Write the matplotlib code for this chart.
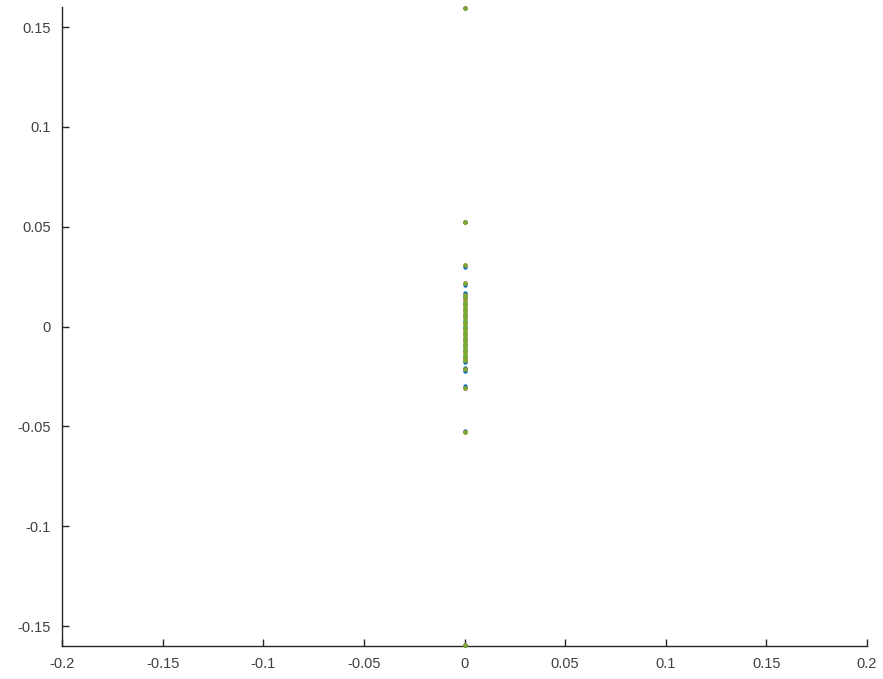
import matplotlib
matplotlib.use("Agg")
import matplotlib.pyplot as plt

plt.rcParams['font.family'] = ['Liberation Sans', 'DejaVu Sans']

# Values of three overlaid point series (all on x = 0)
series_blue_y = [0.1595, 0.0525, 0.030, 0.021, 0.017, 0.015, 0.012, 0.009, 0.006,
                 0.003, 0.000, -0.003, -0.006, -0.009, -0.012, -0.015, -0.018,
                 -0.021, -0.0225, -0.030, -0.0525, -0.1595]
series_orange_y = [0.1595, 0.0525, 0.031, 0.022, 0.016, 0.014, 0.011, 0.008, 0.005,
                   0.002, -0.001, -0.004, -0.007, -0.010, -0.013, -0.016, -0.017,
                   -0.0215, -0.031, -0.053, -0.1595]
series_green_y = [0.1595, 0.0525, 0.031, 0.022, 0.016, 0.015, 0.013, 0.0115, 0.010,
                  0.0085, 0.007, 0.0055, 0.004, 0.0025, 0.001, -0.0005, -0.002,
                  -0.0035, -0.005, -0.0065, -0.008, -0.0095, -0.011, -0.0125,
                  -0.014, -0.0155, -0.017, -0.0215, -0.031, -0.053, -0.1595]

x_ticks = [-0.2, -0.15, -0.1, -0.05, 0, 0.05, 0.1, 0.15, 0.2]
x_tick_labels = ['-0.2', '-0.15', '-0.1', '-0.05', '0', '0.05', '0.1', '0.15', '0.2']
y_ticks = [-0.15, -0.1, -0.05, 0, 0.05, 0.1, 0.15]
y_tick_labels = ['-0.15', '-0.1', '-0.05', '0', '0.05', '0.1', '0.15']

fig = plt.figure(figsize=(8.83, 6.79), dpi=100)
ax = fig.add_axes([0.0702, 0.0486, 0.9117, 0.941])

ax.scatter([0] * len(series_blue_y), series_blue_y, s=10, color='#0072BD',
           linewidths=0, clip_on=False, zorder=2)
ax.scatter([0] * len(series_orange_y), series_orange_y, s=10, color='#D95319',
           linewidths=0, clip_on=False, zorder=3)
ax.scatter([0] * len(series_green_y), series_green_y, s=10, color='#77AC30',
           linewidths=0, clip_on=False, zorder=4)

ax.set_xlim(-0.2, 0.2)
ax.set_ylim(-0.16, 0.16)
ax.set_xticks(x_ticks)
ax.set_xticklabels(x_tick_labels)
ax.set_yticks(y_ticks)
ax.set_yticklabels(y_tick_labels)

for side in ('top', 'right'):
    ax.spines[side].set_visible(False)
for side in ('left', 'bottom'):
    ax.spines[side].set_color('#262626')
    ax.spines[side].set_linewidth(1.0)

ax.tick_params(direction='in', length=5, width=1, color='#262626',
               labelsize=10.5, labelcolor='#404040')
ax.tick_params(axis='x', pad=8)
ax.tick_params(axis='y', pad=8)

fig.savefig('out.png', dpi=100)
